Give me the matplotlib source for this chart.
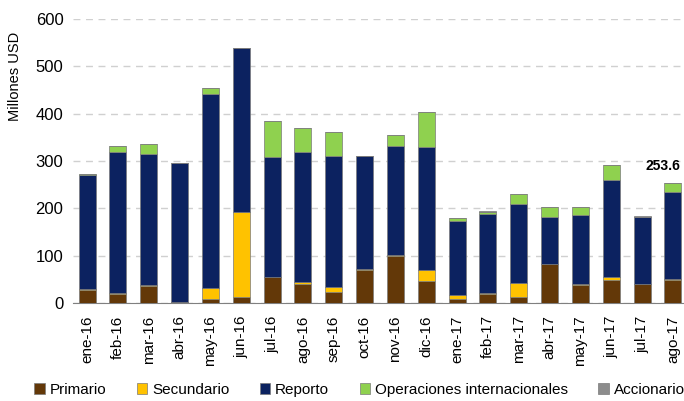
import numpy as np
import matplotlib.pyplot as plt

plt.rcParams['font.family'] = ['Liberation Sans', 'DejaVu Sans']

# datos mensuales (millones USD)
meses = ['ene-16', 'feb-16', 'mar-16', 'abr-16', 'may-16', 'jun-16', 'jul-16', 'ago-16',
         'sep-16', 'oct-16', 'nov-16', 'dic-16', 'ene-17', 'feb-17', 'mar-17', 'abr-17',
         'may-17', 'jun-17', 'jul-17', 'ago-17']
primario = [28, 19, 35, 1, 9, 13, 54, 39, 22, 70, 99, 47, 8, 19, 13, 81, 38, 48, 39, 49]
secundario = [2, 2, 2, 0, 22, 179, 1, 4, 12, 1, 2, 22, 8, 2, 29, 2, 2, 7, 1, 1]
reporto = [240, 299, 278, 294, 411, 347, 253, 275, 277, 240, 231, 260, 156, 167, 168, 98, 146, 205, 141, 185]
internacionales = [3, 12, 22, 1, 13, 1, 77, 51, 51, 0, 22, 74, 7, 5, 20, 21, 17, 31, 1, 18.6]
accionario = [0, 0, 0, 0, 0, 0, 0, 0, 0, 0, 0, 0, 0, 1, 0, 0, 0, 0, 1, 0]

series = [
    ('Primario', primario, '#633808'),
    ('Secundario', secundario, '#FFC200'),
    ('Reporto', reporto, '#0C2260'),
    ('Operaciones internacionales', internacionales, '#8FD14F'),
    ('Accionario', accionario, '#8C8C8C'),
]

fig = plt.figure(figsize=(6.84, 4.01), dpi=100)
ax = fig.add_axes([0.107, 0.245, 0.893, 0.707])

x = np.arange(len(meses))
bottom = np.zeros(len(meses))
handles = []
for name, vals, color in series:
    vals = np.array(vals, dtype=float)
    b = ax.bar(x, vals, 0.55, bottom=bottom, color=color, edgecolor='#7a7a7a',
               linewidth=0.5, label=name, zorder=3)
    handles.append(b)
    bottom += vals

# etiqueta del último mes
total = bottom[-1]
ax.text(x[-1] - 0.9, total + 20, f'{total:.1f}', ha='left', va='bottom',
        fontsize=10, fontweight='bold', clip_on=False)

ax.set_ylim(0, 600)
ax.set_xlim(-0.45, 19.36)
ax.set_yticks(np.arange(0, 601, 100))
ax.yaxis.grid(True, linestyle=(0, (5, 4)), color='#d0d0d0', linewidth=1, zorder=0)
ax.set_xticks(x)
ax.set_xticklabels(meses, rotation=90, fontsize=11)
ax.tick_params(axis='y', labelsize=12, length=0, pad=7)
ax.tick_params(axis='x', length=0, pad=9)
for s in ['top', 'right', 'left']:
    ax.spines[s].set_visible(False)
ax.spines['bottom'].set_color('#808080')
ax.set_ylabel('Millones USD', fontsize=10.5, va='center')
ax.yaxis.set_label_coords(-0.095, 0.8)

fig.legend(handles=handles, loc='center left', bbox_to_anchor=(0.05, 0.027), ncol=5,
           frameon=False, fontsize=11, handlelength=0.7, handleheight=0.7,
           handletextpad=0.3, columnspacing=2.0, borderpad=0, borderaxespad=0)

fig.savefig('out.png', dpi=100)
